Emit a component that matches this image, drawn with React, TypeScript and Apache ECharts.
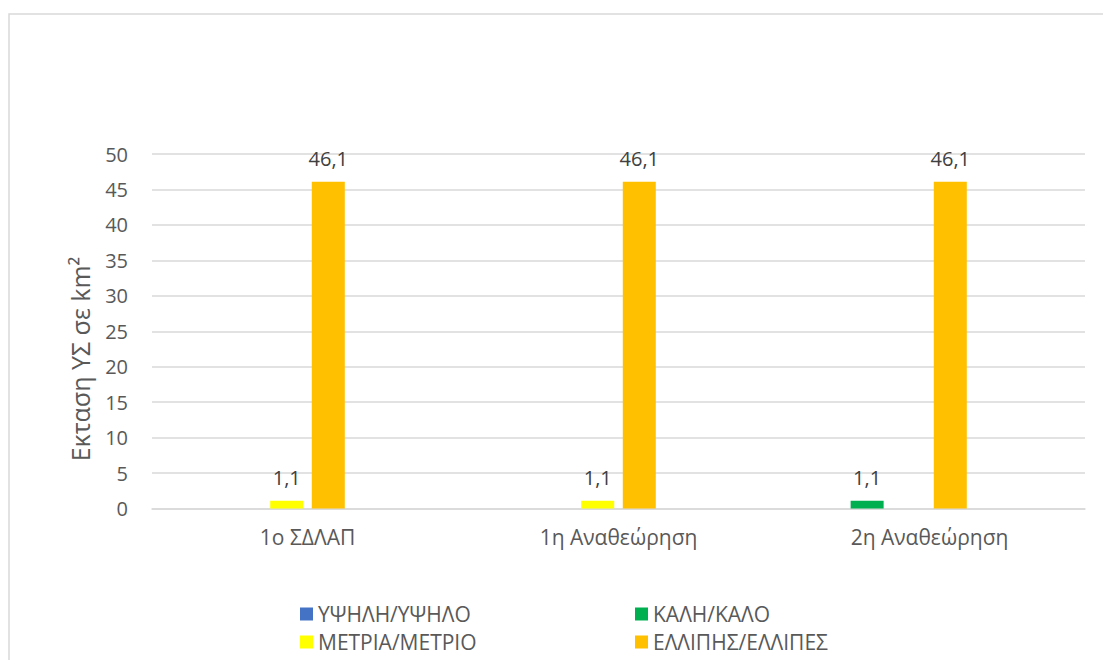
import React, { useEffect, useRef } from "react";
import * as echarts from "echarts";

const categories = ["1ο ΣΔΛΑΠ", "1η Αναθεώρηση", "2η Αναθεώρηση"];
const seriesNames = ["ΥΨΗΛΗ/ΥΨΗΛΟ", "ΚΑΛΗ/ΚΑΛΟ", "ΜΕΤΡΙΑ/ΜΕΤΡΙΟ", "ΕΛΛΙΠΗΣ/ΕΛΛΙΠΕΣ"];
const highValues: (number | null)[] = [null, null, null];
const goodValues: (number | null)[] = [null, null, 1.1];
const moderateValues: (number | null)[] = [1.1, 1.1, null];
const poorValues: (number | null)[] = [46.1, 46.1, 46.1];
const yTicks = [0, 5, 10, 15, 20, 25, 30, 35, 40, 45, 50];
const yTitle = "Εκταση ΥΣ σε km²";
const colors = {
  high: "#4472C4",
  good: "#00B050",
  moderate: "#FFFF00",
  poor: "#FFC000",
};

const FONT = "Open Sans";

export default function App() {
  const ref = useRef<HTMLDivElement>(null);
  useEffect(() => {
    if (!ref.current) return;
    const chart = echarts.init(ref.current, null, { renderer: "svg" });
    const label = {
      show: true,
      position: "top",
      distance: 13,
      fontFamily: FONT,
      fontSize: 20,
      color: "#404040",
      formatter: (p: any) => String(p.value).replace(".", ","),
    };
    const mk = (name: string, data: (number | null)[], color: string) => ({
      name,
      type: "bar",
      data,
      barWidth: 33,
      barGap: "26%",
      itemStyle: { color },
      label,
    });
    const legendText = { fontFamily: FONT, fontSize: 21, color: "#595959", lineHeight: 22 };
    const legendBase = {
      orient: "vertical",
      top: 598,
      itemWidth: 13,
      itemHeight: 13,
      itemGap: 6,
      icon: "rect",
      textStyle: legendText,
    };
    chart.setOption({
      animation: false,
      graphic: [
        {
          type: "rect",
          shape: { x: 9, y: 14, width: 1200, height: 800 },
          style: { fill: "none", stroke: "#d9d9d9", lineWidth: 1.5 },
          silent: true,
        },
        {
          type: "text",
          x: 80,
          y: 359,
          rotation: Math.PI / 2,
          style: {
            text: yTitle,
            fontFamily: FONT,
            fontSize: 25,
            fill: "#595959",
            align: "center",
            verticalAlign: "middle",
          },
          silent: true,
        },
      ],
      grid: { left: 152, right: 18, top: 154, bottom: 151.5, containLabel: false },
      legend: [
        { ...legendBase, left: 295, data: [seriesNames[0], seriesNames[2]] },
        { ...legendBase, left: 630, data: [seriesNames[1], seriesNames[3]] },
      ],
      xAxis: {
        type: "category",
        data: categories,
        axisLine: { lineStyle: { color: "#d9d9d9", width: 1.5 } },
        axisTick: { show: false },
        axisLabel: { fontFamily: FONT, fontSize: 21, color: "#595959", margin: 18 },
      },
      yAxis: {
        type: "value",
        min: yTicks[0],
        max: yTicks[yTicks.length - 1],
        interval: 5,
        axisLine: { show: false },
        axisTick: { show: false },
        splitLine: { lineStyle: { color: "#d9d9d9", width: 1.5 } },
        axisLabel: { fontFamily: FONT, fontSize: 20, color: "#595959", margin: 24 },
      },
      series: [
        mk(seriesNames[1], goodValues, colors.good),
        mk(seriesNames[2], moderateValues, colors.moderate),
        mk(seriesNames[3], poorValues, colors.poor),
        mk(seriesNames[0], highValues, colors.high),
      ],
    });
    return () => chart.dispose();
  }, []);
  return (
    <div
      ref={ref}
      style={{ position: "absolute", left: 0, top: 0, width: 1103, height: 660, background: "#fff" }}
    />
  );
}
